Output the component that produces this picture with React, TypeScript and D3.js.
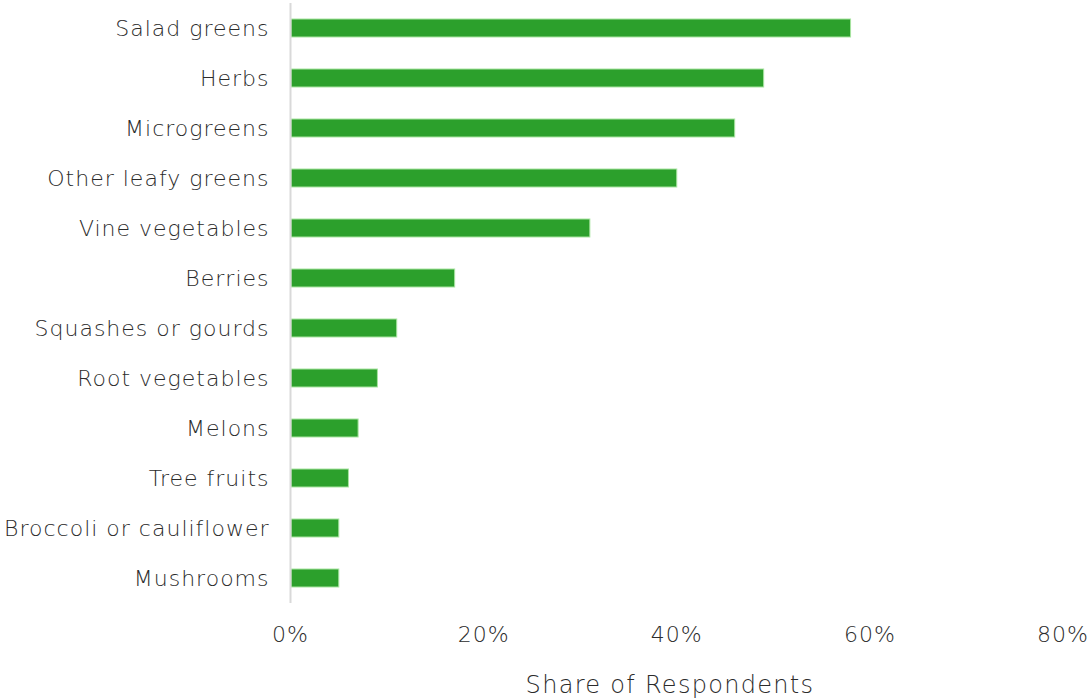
import React, { useEffect, useRef } from 'react';
import * as d3 from 'd3';

const categories = [
  'Salad greens',
  'Herbs',
  'Microgreens',
  'Other leafy greens',
  'Vine vegetables',
  'Berries',
  'Squashes or gourds',
  'Root vegetables',
  'Melons',
  'Tree fruits',
  'Broccoli or cauliflower',
  'Mushrooms',
];
const shares = [58, 49, 46, 40, 31, 17, 11, 9, 7, 6, 5, 5];
const xTicks = [0, 20, 40, 60, 80];
const xTitle = 'Share of Respondents';

const width = 1089;
const height = 698;
const font = '"DejaVu Sans", sans-serif';
const textColor = '#2b2b2b';

export default function App() {
  const svgRef = useRef<SVGSVGElement>(null);

  useEffect(() => {
    if (!svgRef.current) return;
    const svg = d3.select(svgRef.current);
    svg.selectAll('*').remove();

    const x = d3.scaleLinear().domain([0, 80]).range([290.5, 1063]);
    const y = d3.scaleBand<string>()
      .domain(categories)
      .range([3, 603])
      .paddingInner(0.64)
      .paddingOuter(0.32);

    const g = svg.append('g');

    // Bars
    g.selectAll('.bar')
      .data(categories)
      .enter()
      .append('rect')
      .attr('x', x(0) + 0.5)
      .attr('y', d => y(d)!)
      .attr('width', (d, i) => x(shares[i]) - x(0) - 0.5)
      .attr('height', y.bandwidth())
      .attr('fill', '#2ca02c')
      .attr('stroke', '#a8e4a0')
      .attr('stroke-width', 1);

    // Left axis line
    g.append('line')
      .attr('x1', x(0)).attr('x2', x(0))
      .attr('y1', 3).attr('y2', 603)
      .attr('stroke', '#d9d9d9')
      .attr('stroke-width', 2);

    // Category labels
    g.selectAll('.label')
      .data(categories)
      .enter()
      .append('text')
      .attr('x', x(0) - 21)
      .attr('y', d => y(d)! + y.bandwidth() / 2 + 7.5)
      .attr('text-anchor', 'end')
      .attr('font-family', font)
      .attr('font-weight', 200)
      .attr('font-size', '22px')
      .attr('letter-spacing', '1px')
      .attr('fill', textColor)
      .text(d => d);

    // X tick labels
    g.selectAll('.tick')
      .data(xTicks)
      .enter()
      .append('text')
      .attr('x', d => x(d))
      .attr('y', 642)
      .attr('text-anchor', 'middle')
      .attr('font-family', font)
      .attr('font-weight', 200)
      .attr('font-size', '22px')
      .attr('letter-spacing', '1px')
      .attr('fill', textColor)
      .text(d => `${d}%`);

    // X title
    g.append('text')
      .attr('x', 670)
      .attr('y', 693)
      .attr('text-anchor', 'middle')
      .attr('font-family', font)
      .attr('font-weight', 200)
      .attr('font-size', '24px')
      .attr('letter-spacing', '1.3px')
      .attr('fill', textColor)
      .text(xTitle);
  }, []);

  return (
    <svg
      ref={svgRef}
      width={width}
      height={height}
      style={{ position: 'absolute', left: 0, top: 0, display: 'block', background: '#fff' }}
    />
  );
}
